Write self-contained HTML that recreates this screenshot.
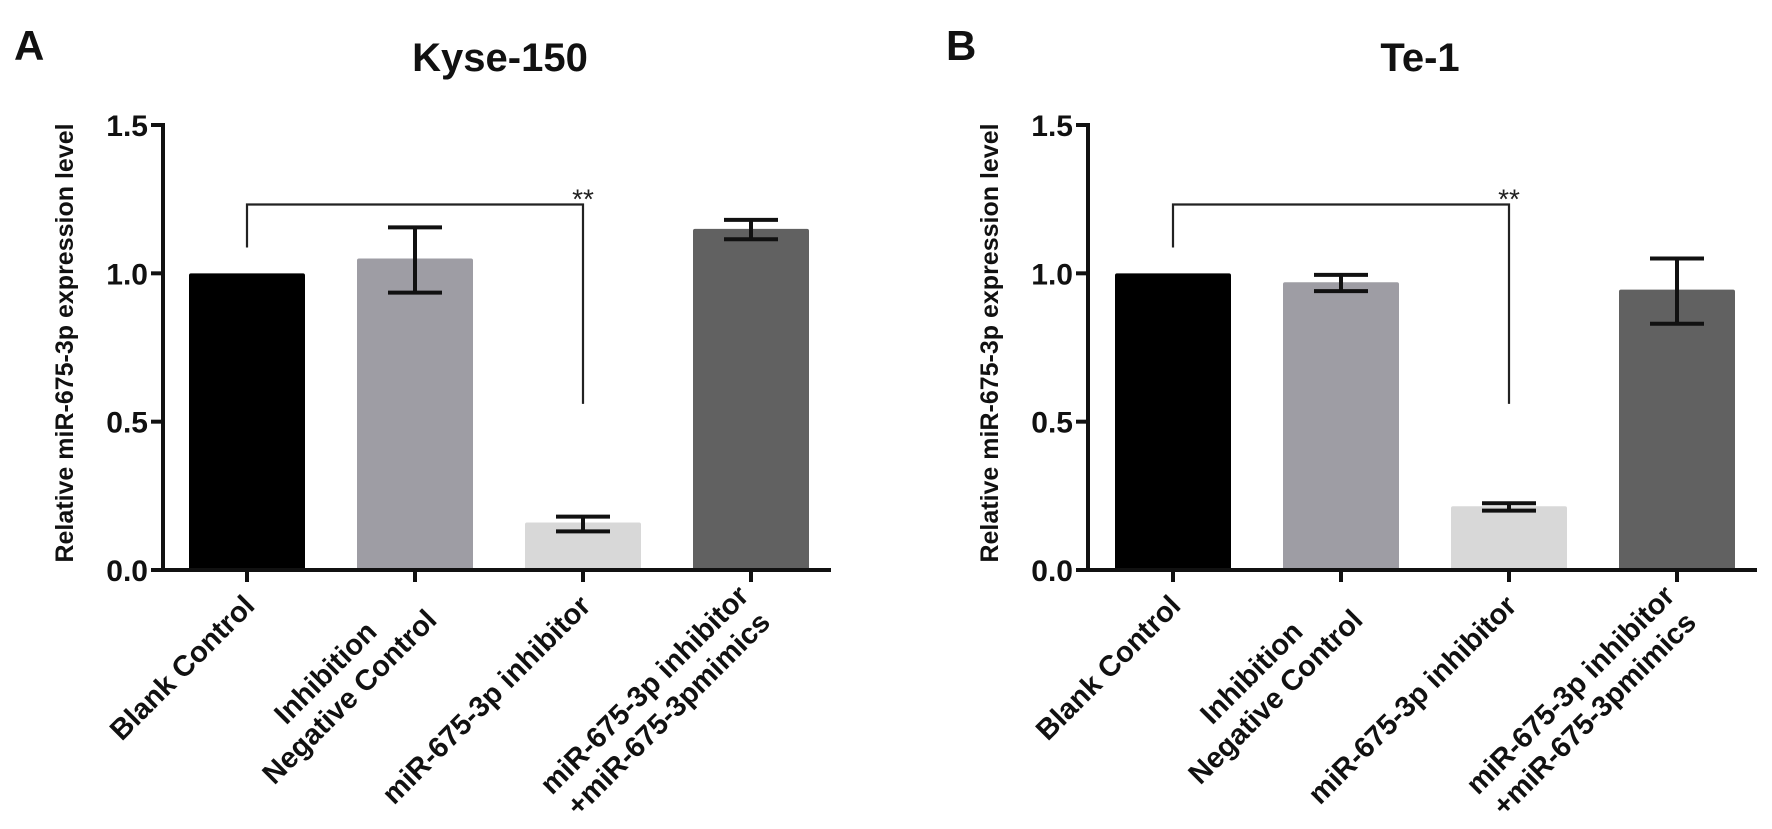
<!DOCTYPE html>
<html><head><meta charset="utf-8"><style>
html,body{margin:0;padding:0;background:#fff;}
svg{display:block;font-family:"Liberation Sans",Arial,sans-serif;font-weight:bold;}
</style></head><body>
<svg id="fig" width="1772" height="829" viewBox="0 0 1772 829" xmlns="http://www.w3.org/2000/svg"></svg>
<script>
const categories = [["Blank Control"],["Inhibition","Negative Control"],["miR-675-3p inhibitor"],["miR-675-3p inhibitor","+miR-675-3pmimics"]];
const colors = ["#000000","#9e9da4","#d8d8d8","#616161"];
const yTicks = [0.0,0.5,1.0,1.5];
const yTickLabels = ["0.0","0.5","1.0","1.5"];
const kyseValues = [1.0,1.05,0.16,1.15];
const kyseErrLow = [1.0,0.935,0.13,1.115];
const kyseErrHigh = [1.0,1.155,0.18,1.18];
const teValues = [1.0,0.97,0.215,0.945];
const teErrLow = [1.0,0.94,0.20,0.83];
const teErrHigh = [1.0,0.995,0.225,1.05];
const bracketTop = 1.232, bracketLeftEnd = 1.087, bracketRightEnd = 0.56;

const NS="http://www.w3.org/2000/svg";
const svg=document.getElementById('fig');
function mk(tag,attrs,parent,text){const e=document.createElementNS(NS,tag);for(const k in attrs)e.setAttribute(k,attrs[k]);if(text!==undefined)e.textContent=text;(parent||svg).appendChild(e);return e;}

function panel(cfg){
  const g=mk('g',{});
  
  
  const y0=570, y1=125, ax=cfg.axisX;
  const yS=v=>y0-(v/1.5)*(y0-y1);
  const xS=i=>cfg.firstCenter+i*168;
  const bw=116;
  const letter=mk('text',{x:cfg.letterX,y:60,'font-size':42,fill:'#111'},g,cfg.letter);
  
  
  const t=mk('text',{x:cfg.titleX,y:71,'font-size':40,'text-anchor':'middle',fill:'#111'},g,cfg.title);
  
  
  const yt=mk('text',{x:0,y:0,'font-size':25,'text-anchor':'middle',fill:'#111',transform:`translate(${ax-90},343) rotate(-90)`},g,"Relative miR-675-3p expression level");
  
  
  cfg.values.forEach((v,i)=>{
    const r=mk('rect',{x:xS(i)-bw/2,y:yS(v),width:bw,height:y0-yS(v),fill:colors[i],rx:2},g);
    
    
    if(cfg.hi[i]!==cfg.lo[i]){
      const eg=mk('g',{stroke:'#111','stroke-width':4,fill:'none'},g);
      
      
      mk('line',{x1:xS(i),x2:xS(i),y1:yS(cfg.hi[i]),y2:yS(cfg.lo[i])},eg);
      mk('line',{x1:xS(i)-27,x2:xS(i)+27,y1:yS(cfg.hi[i]),y2:yS(cfg.hi[i])},eg);
      mk('line',{x1:xS(i)-27,x2:xS(i)+27,y1:yS(cfg.lo[i]),y2:yS(cfg.lo[i])},eg);
    }
  });
  const axg=mk('g',{stroke:'#111','stroke-width':4},g);
  
  
  mk('line',{x1:ax,x2:ax,y1:y1-2,y2:y0+2},axg);
  mk('line',{x1:ax-12,x2:xS(3)+bw/2+22,y1:y0,y2:y0},axg);
  yTicks.forEach((v,i)=>{
    mk('line',{x1:ax-12,x2:ax,y1:yS(v),y2:yS(v)},axg);
    const l=mk('text',{x:ax-15,y:yS(v)+11,'font-size':30,'text-anchor':'end',fill:'#111',stroke:'none'},g,yTickLabels[i]);
    
    
  });
  categories.forEach((c,i)=>{
    mk('line',{x1:xS(i),x2:xS(i),y1:y0,y2:y0+12},axg);
    const lg=mk('g',{transform:`translate(${xS(i)},${y0}) rotate(-45)`},g);
    
    
    const ys=c.length===1?[33]:[19,53];
    const texts=c.map((line,j)=>mk('text',{x:0,y:ys[j],'font-size':29,'text-anchor':'middle',fill:'#111'},lg,line));
    const maxLen=Math.max(...texts.map(tx=>tx.getComputedTextLength()));
    texts.forEach(tx=>tx.setAttribute('x',-20-maxLen/2));
  });
  const bg=mk('g',{stroke:'#222','stroke-width':2.2,fill:'none'},g);
  
  
  mk('polyline',{points:`${xS(0)},${yS(bracketLeftEnd)} ${xS(0)},${yS(bracketTop)} ${xS(2)},${yS(bracketTop)} ${xS(2)},${yS(bracketRightEnd)}`},bg);
  const st=mk('text',{x:xS(2),y:yS(bracketTop)+4,'font-size':28,'font-weight':'normal',fill:'#222','text-anchor':'middle'},g,"**");
  
  
}
panel({name:'panel-a-kyse150',letter:'A',letterX:14,title:'Kyse-150',titleX:500,axisX:163,firstCenter:247,values:kyseValues,lo:kyseErrLow,hi:kyseErrHigh});
panel({name:'panel-b-te1',letter:'B',letterX:946,title:'Te-1',titleX:1420,axisX:1088,firstCenter:1173,values:teValues,lo:teErrLow,hi:teErrHigh});
</script>
</body></html>
